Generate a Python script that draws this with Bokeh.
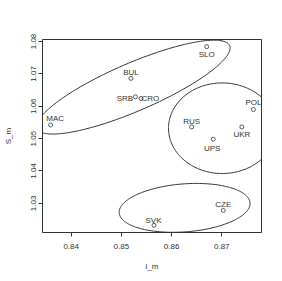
import numpy as np
from bokeh.plotting import figure
from bokeh.models import ColumnDataSource, FixedTicker, PolyAnnotation
from bokeh.core.properties import value
from bokeh.embed import file_html
from bokeh.resources import INLINE

# ---------------- data ----------------
countries = ["MAC", "BUL", "SRB", "CRO", "SLO", "POL", "RUS", "UKR", "UPS", "CZE", "SVK"]
l_m = [0.8359, 0.8519, 0.8528, 0.8539, 0.8670, 0.8763, 0.8640, 0.8740, 0.8683, 0.8703, 0.8565]
S_m = [1.0542, 1.0686, 1.0629, 1.0624, 1.0784, 1.0590, 1.0536, 1.0536, 1.0498, 1.0278, 1.0232]

x_ticks = [0.84, 0.85, 0.86, 0.87]
y_ticks = [1.03, 1.04, 1.05, 1.06, 1.07, 1.08]

# cluster ellipses: centres (data units)
ell_cx = [0.8524, 0.8701, 0.8626]
ell_cy = [1.0659, 1.0532, 1.0286]

# ---------------- style ----------------
# ellipse semi-axes (screen px) and rotation (deg)
ell_a = [106, 54.5, 66.5]
ell_b = [24, 45.3, 24]
ell_ang = [23, 0, 4.3]

# label offsets in px (dx right, dy down)
lab_dx = [4.5, 0, -10.5, 9.5, 0, 0, 0, 0, -1, 0, -0.5]
lab_dy = [-6, -6, 1.5, 0, 7.5, -7, -5.5, 7.3, 9, -5.5, -5]

FONT = "Liberation Sans"
INK = "#333333"

pad_x = 0.04 * (max(l_m) - min(l_m))
pad_y = 0.04 * (max(S_m) - min(S_m))
x0, x1 = min(l_m) - pad_x, max(l_m) + pad_x
y0, y1 = min(S_m) - pad_y, max(S_m) + pad_y

W, H = 282, 281
BL, BR, BT, BB = 39, 21, 39, 49

p = figure(width=W, height=H, x_range=(x0, x1), y_range=(y0, y1),
           output_backend="svg", toolbar_location=None,
           min_border_left=BL, min_border_right=BR, min_border_top=BT, min_border_bottom=BB,
           background_fill_color="white", border_fill_color="white")

p.grid.visible = False
p.outline_line_color = INK
p.outline_line_width = 1

for ax, ticks in ((p.xaxis, x_ticks), (p.yaxis, y_ticks)):
    ax.ticker = FixedTicker(ticks=ticks)
    ax.axis_line_color = None
    ax.major_tick_line_color = INK
    ax.major_tick_out = 4
    ax.major_tick_in = 0
    ax.minor_tick_line_color = None
    ax.major_label_text_font = FONT
    ax.major_label_text_font_size = "8px"
    ax.major_label_text_color = INK
    ax.axis_label_text_font = FONT
    ax.axis_label_text_font_size = "8px"
    ax.axis_label_text_font_style = "normal"
    ax.axis_label_text_color = INK

p.xaxis.axis_label = "l_m"
p.yaxis.axis_label = "S_m"
p.xaxis.major_label_standoff = 7
p.xaxis.axis_label_standoff = 10
p.yaxis.major_label_orientation = "vertical"
p.yaxis.major_label_standoff = 2
p.yaxis.axis_label_standoff = 16

# ellipses
fw = W - BL - BR
fh = H - BT - BB
kx = fw / (x1 - x0)
ky = fh / (y1 - y0)
t = np.linspace(0, 2 * np.pi, 240)
for cx, cy, a, b, ang in zip(ell_cx, ell_cy, ell_a, ell_b, ell_ang):
    th = np.deg2rad(ang)
    dx = a * np.cos(t) * np.cos(th) - b * np.sin(t) * np.sin(th)
    dy = a * np.cos(t) * np.sin(th) + b * np.sin(t) * np.cos(th)
    xs = list(cx + dx / kx)
    ys = list(cy + dy / ky)
    p.add_layout(PolyAnnotation(xs=xs, ys=ys, fill_color=None, fill_alpha=0,
                                line_color=INK, line_alpha=1, line_width=1))

src = ColumnDataSource(dict(x=l_m, y=S_m, lab=countries, dx=lab_dx, dy=lab_dy))
p.scatter("x", "y", source=src, marker="circle", size=4, fill_color=None,
          line_color=INK, line_width=0.8)
p.text("x", "y", text="lab", source=src, x_offset="dx", y_offset="dy",
       text_font=value(FONT), text_font_size="8px", text_color=INK,
       text_align="center", text_baseline="middle")

open("out.html", "w").write(file_html(p, INLINE))
